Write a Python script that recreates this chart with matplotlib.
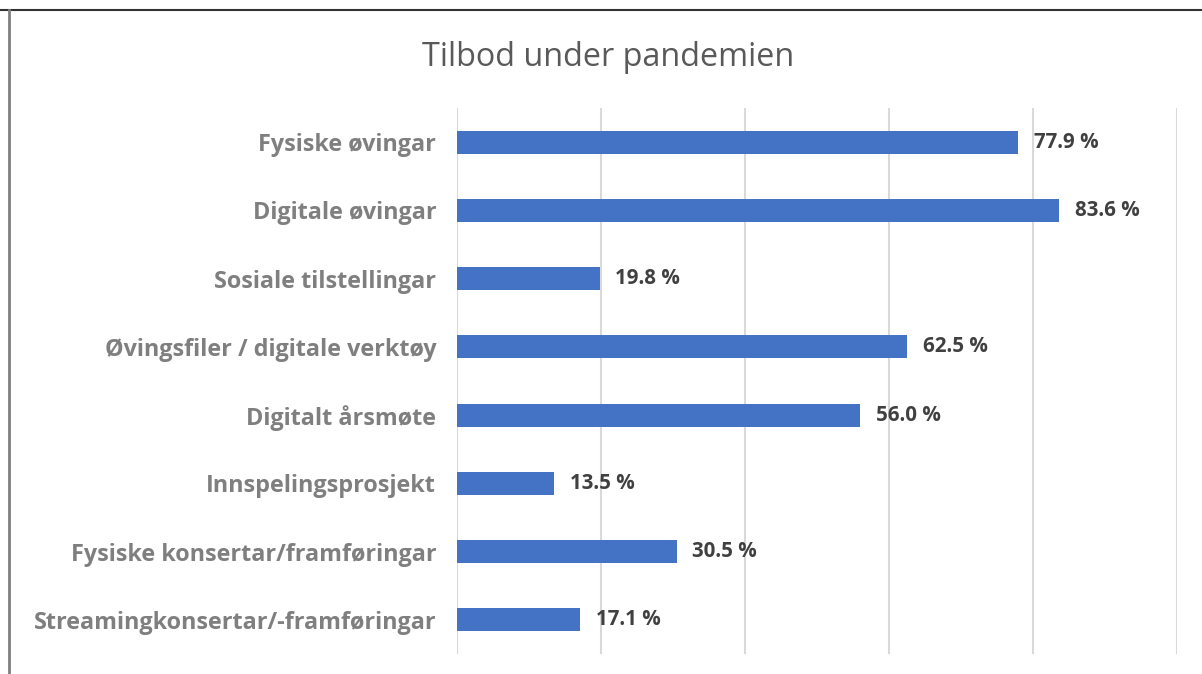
import matplotlib.pyplot as plt
from matplotlib.lines import Line2D

categories = ["Fysiske øvingar", "Digitale øvingar", "Sosiale tilstellingar",
              "Øvingsfiler / digitale verktøy", "Digitalt årsmøte",
              "Innspelingsprosjekt", "Fysiske konsertar/framføringar",
              "Streamingkonsertar/-framføringar"]
values = [77.9, 83.6, 19.8, 62.5, 56.0, 13.5, 30.5, 17.1]
title = "Tilbod under pandemien"

plt.rcParams['font.family'] = ['Open Sans', 'DejaVu Sans']

fig = plt.figure(figsize=(12.02, 6.74), dpi=100)
ax = fig.add_axes([457/1202, 20/674, 720/1202, 546/674])

ypos = list(range(len(categories)))
ax.barh(ypos, values, height=0.34, color="#4472c4", zorder=3)
for y, v in zip(ypos, values):
    ax.text(v + 2.2, y, f"{v:.1f} %", va="center", ha="left",
            fontsize=14.8, fontweight="bold", color="#404040")

ax.set_xlim(0, 100)
ax.set_ylim(len(categories) - 0.5, -0.5)
ax.set_xticks([0, 20, 40, 60, 80, 100])
ax.set_xticklabels([])
ax.grid(axis="x", color="#d9d9d9", linewidth=1.5, zorder=0)
ax.set_yticks(ypos)
ax.set_yticklabels(categories, fontsize=16.8, fontweight="bold", color="#7f7f7f")
ax.tick_params(axis="both", length=0, pad=15)
for s in ax.spines.values():
    s.set_visible(False)

fig.text(608/1202, 1 - 57/674, title, ha="center", va="center",
         fontsize=23.3, color="#595959")

# frame lines from the screenshot crop
fig.add_artist(Line2D([0, 1], [1 - 10/674, 1 - 10/674], color="#333333", linewidth=1.5))
fig.add_artist(Line2D([9/1202, 9/1202], [0, 1 - 10/674], color="#808080", linewidth=2))

fig.savefig("out.png", dpi=100)
